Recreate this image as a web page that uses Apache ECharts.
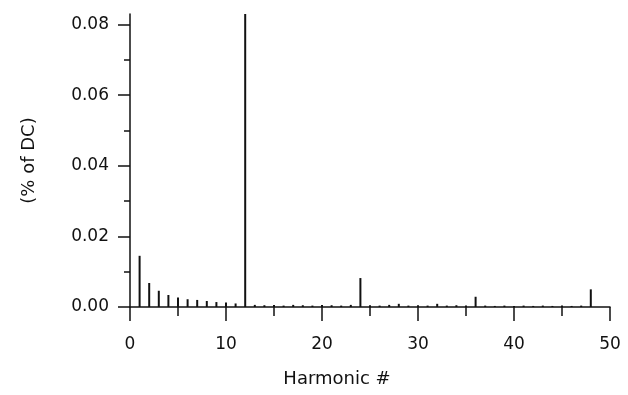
<!DOCTYPE html>
<html>
<head>
<meta charset="utf-8">
<script src="https://cdn.jsdelivr.net/npm/echarts@6/dist/echarts.min.js"></script>
<style>html,body{margin:0;padding:0;background:#fff;}#c{width:628px;height:395px;}</style>
</head>
<body>
<div id="c"></div>
<script>
// Harmonic numbers 1..48 and their amplitude (% of DC)
var harmonics = [];
for (var h = 1; h <= 48; h++) harmonics.push(h);
var amplitudes = [
  0.0145, 0.0068, 0.0046, 0.0034, 0.0027, 0.0022, 0.0020, 0.0017, 0.0014, 0.0013,
  0.0010, 0.0830, 0.0006, 0.0005, 0.0006, 0.0004, 0.0006, 0.0005, 0.0004, 0.0006,
  0.0005, 0.0004, 0.0006, 0.0082, 0.0005, 0.0004, 0.0006, 0.0009, 0.0004, 0.0005,
  0.0004, 0.0009, 0.0004, 0.0005, 0.0004, 0.0029, 0.0004, 0.0003, 0.0004, 0.0003,
  0.0004, 0.0003, 0.0004, 0.0003, 0.0004, 0.0003, 0.0004, 0.0050
];
var xTickLabels = [0, 10, 20, 30, 40, 50];
var yTickLabels = [0, 0.02, 0.04, 0.06, 0.08];
var yMinorTicks = [0.01, 0.03, 0.05, 0.07];

var data = harmonics.map(function (h, i) { return [h, amplitudes[i]]; });
var ink = '#111';
var font = 'DejaVu Sans';

var chart = echarts.init(document.getElementById('c'), null, {renderer: 'canvas'});
chart.setOption({
  animation: false,
  backgroundColor: '#fff',
  grid: {left: 130, right: 18, top: 14, bottom: 88},
  xAxis: {
    type: 'value', min: 0, max: 50, interval: 10,
    name: 'Harmonic #', nameLocation: 'middle', nameGap: 63,
    nameTextStyle: {color: ink, fontSize: 18, fontFamily: font, padding: [0, 66, 0, 0]},
    axisLine: {show: true, onZero: false, lineStyle: {color: ink, width: 1.5}},
    axisTick: {show: true, length: 14, lineStyle: {color: ink, width: 1.5}},
    minorTick: {show: true, splitNumber: 2, length: 9, lineStyle: {color: ink, width: 1.5}},
    axisLabel: {color: ink, fontSize: 17, fontFamily: font, margin: 29,
      customValues: xTickLabels},
    splitLine: {show: false}
  },
  yAxis: [{
    type: 'value', min: 0, max: 0.083,
    name: '(% of DC)', nameLocation: 'middle', nameGap: 92, nameRotate: 90,
    nameTextStyle: {color: ink, fontSize: 18, fontFamily: font},
    axisLine: {show: true, lineStyle: {color: ink, width: 1.5}},
    axisTick: {show: true, length: 12, customValues: yTickLabels, lineStyle: {color: ink, width: 1.5}},
    axisLabel: {color: ink, fontSize: 17, fontFamily: font, margin: 21,
      customValues: yTickLabels,
      formatter: function (v) { return v.toFixed(2); }},
    splitLine: {show: false}
  }, {
    type: 'value', min: 0, max: 0.083, position: 'left',
    axisLine: {show: false},
    axisTick: {show: true, length: 6, customValues: yMinorTicks, lineStyle: {color: ink, width: 1.5}},
    axisLabel: {show: false},
    splitLine: {show: false}
  }],
  series: [{
    type: 'bar',
    data: data,
    barWidth: 2,
    itemStyle: {color: ink},
    clip: true
  }]
});
</script>
</body>
</html>
